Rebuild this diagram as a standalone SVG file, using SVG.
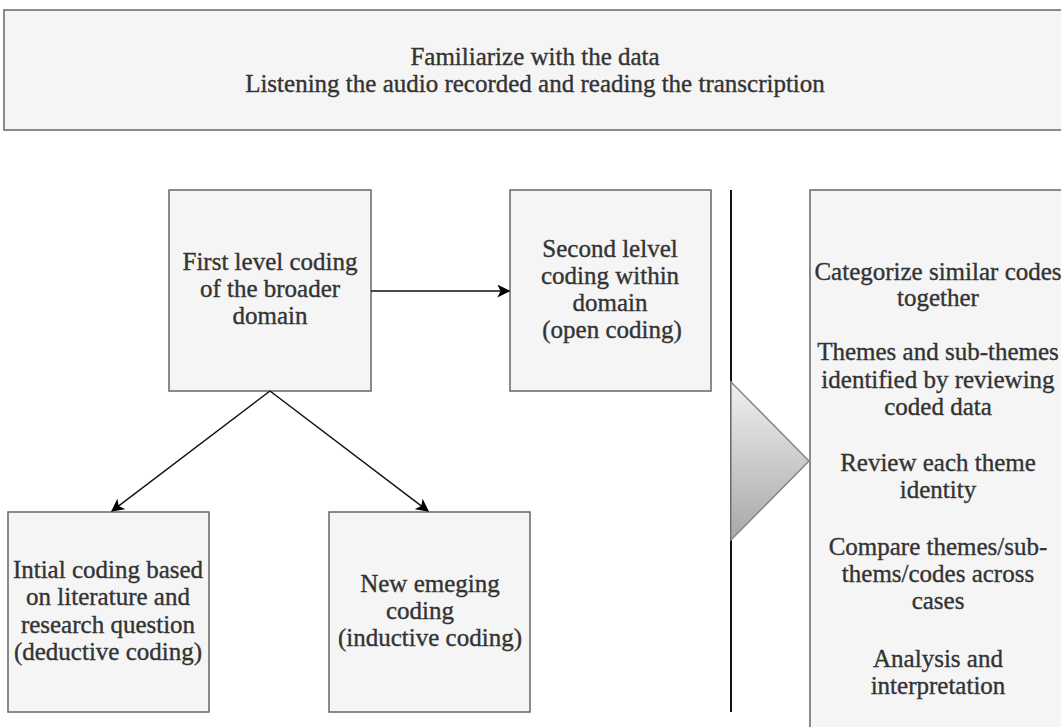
<svg xmlns="http://www.w3.org/2000/svg" width="1061" height="727" viewBox="0 0 1061 727">
<style>
.box{fill:#f5f5f5;stroke:#666;stroke-width:1.5}
.t{font-family:'Liberation Serif','Times New Roman','DejaVu Serif',serif;font-size:25px;fill:#333;stroke:#333;stroke-width:0.35;text-anchor:middle}
.c{stroke:#111;stroke-width:1.5;fill:none}
</style>
<defs>
<marker id="ah2" viewBox="0 0 10 10" refX="9" refY="5" markerWidth="13" markerHeight="13" markerUnits="userSpaceOnUse" orient="auto">
<path d="M0,0 L10,5 L0,10 L2.5,5 Z" fill="#000"/>
</marker>
<linearGradient id="tg" x1="0" y1="0" x2="0" y2="1">
<stop offset="0" stop-color="#f0f0f0"/>
<stop offset="1" stop-color="#a8a8a8"/>
</linearGradient>
</defs>
<rect width="1061" height="727" fill="#fff"/>
<g id="familiarize">
<rect class="box" x="4" y="10" width="1070" height="120"/>
<text class="t" x="535" y="65">Familiarize with the data</text>
<text class="t" x="535" y="92">Listening the audio recorded and reading the transcription</text>
</g>
<g id="first-level">
<rect class="box" x="169" y="190" width="202" height="201"/>
<text class="t" x="270" y="270">First level coding</text>
<text class="t" x="270" y="297">of the broader</text>
<text class="t" x="270" y="324">domain</text>
</g>
<g id="second-level">
<rect class="box" x="510" y="190" width="201" height="201"/>
<text class="t" x="610" y="257">Second lelvel</text>
<text class="t" x="610" y="284">coding within</text>
<text class="t" x="610" y="311">domain</text>
<text class="t" x="612" y="338">(open coding)</text>
</g>
<g id="initial-coding">
<rect class="box" x="8" y="512" width="201" height="200"/>
<text class="t" x="108" y="578">Intial coding based</text>
<text class="t" x="108" y="605">on literature and</text>
<text class="t" x="108" y="633">research question</text>
<text class="t" x="108" y="660">(deductive coding)</text>
</g>
<g id="new-emerging">
<rect class="box" x="329" y="512" width="201" height="200"/>
<text class="t" x="430" y="592">New emeging</text>
<text class="t" x="420" y="619">coding</text>
<text class="t" x="430" y="646">(inductive coding)</text>
</g>
<g id="themes">
<rect class="box" x="810" y="190" width="260" height="560"/>
<text class="t" x="938" y="280">Categorize similar codes</text>
<text class="t" x="938" y="306">together</text>
<text class="t" x="938" y="360">Themes and sub-themes</text>
<text class="t" x="938" y="388">identified by reviewing</text>
<text class="t" x="938" y="415">coded data</text>
<text class="t" x="938" y="471">Review each theme</text>
<text class="t" x="938" y="498">identity</text>
<text class="t" x="938" y="555">Compare themes/sub-</text>
<text class="t" x="938" y="582">thems/codes across</text>
<text class="t" x="938" y="609">cases</text>
<text class="t" x="938" y="667">Analysis and</text>
<text class="t" x="938" y="694">interpretation</text>
</g>
<g id="divider">
<line x1="731" y1="190" x2="731" y2="712" stroke="#111" stroke-width="2"/>
<path d="M731,382 L809,461 L731,540 Z" fill="url(#tg)" stroke="#888" stroke-width="1.5"/>
</g>
<g id="connectors">
<line class="c" x1="371" y1="291" x2="509" y2="291" marker-end="url(#ah2)"/>
<line class="c" x1="270" y1="391" x2="112" y2="511" marker-end="url(#ah2)"/>
<line class="c" x1="270" y1="391" x2="428" y2="511" marker-end="url(#ah2)"/>
</g>
</svg>
